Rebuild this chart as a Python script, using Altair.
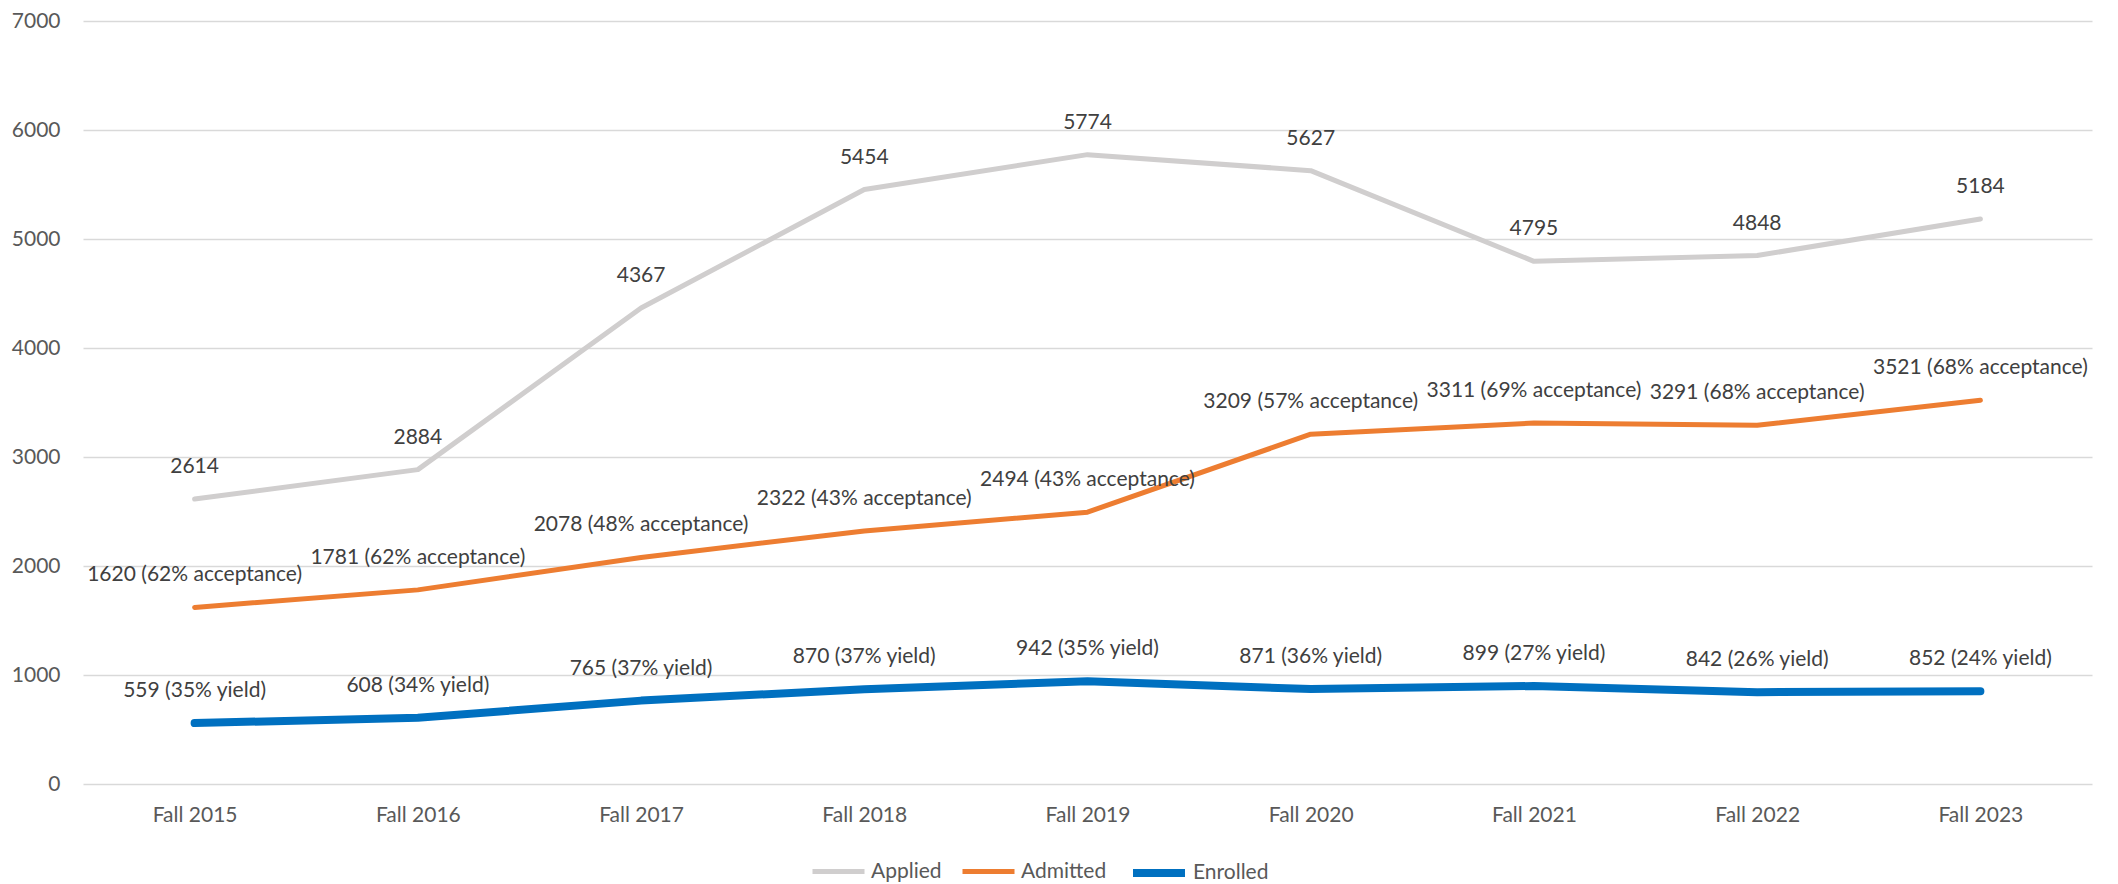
import altair as alt
import pandas as pd

years = ["Fall 2015", "Fall 2016", "Fall 2017", "Fall 2018", "Fall 2019",
         "Fall 2020", "Fall 2021", "Fall 2022", "Fall 2023"]
applied = [2614, 2884, 4367, 5454, 5774, 5627, 4795, 4848, 5184]
admitted = [1620, 1781, 2078, 2322, 2494, 3209, 3311, 3291, 3521]
acceptance_pct = [62, 62, 48, 43, 43, 57, 69, 68, 68]
enrolled = [559, 608, 765, 870, 942, 871, 899, 842, 852]
yield_pct = [35, 34, 37, 37, 35, 36, 27, 26, 24]

series_names = ["Applied", "Admitted", "Enrolled"]
series_colors = ["#D0CECE", "#ED7D31", "#0070C0"]
series_widths = [5, 5, 8]
y_ticks = [0, 1000, 2000, 3000, 4000, 5000, 6000, 7000]

rows = []
for i, yr in enumerate(years):
    rows.append(dict(year=yr, series="Applied", value=applied[i],
                     label=f"{applied[i]}"))
    rows.append(dict(year=yr, series="Admitted", value=admitted[i],
                     label=f"{admitted[i]} ({acceptance_pct[i]}% acceptance)"))
    rows.append(dict(year=yr, series="Enrolled", value=enrolled[i],
                     label=f"{enrolled[i]} ({yield_pct[i]}% yield)"))
df = pd.DataFrame(rows)

FONT = "Lato"

x_enc = alt.X("year:N", sort=years, title=None,
              scale=alt.Scale(type="point", padding=0.5),
              axis=alt.Axis(labelAngle=0, ticks=False, domain=False, grid=False,
                            labelPadding=20, labelFontSize=21, labelFont=FONT,
                            labelColor="#595959"))
y_enc = alt.Y("value:Q", title=None,
              scale=alt.Scale(domain=[0, 7000], nice=False, zero=True),
              axis=alt.Axis(values=y_ticks, format="d", ticks=False, domain=False,
                            grid=True, gridColor="#D9D9D9", gridWidth=1.5,
                            labelPadding=23, labelFontSize=21, labelFont=FONT,
                            labelColor="#595959"))

lines = alt.Chart(df).mark_line(strokeCap="round", strokeJoin="round").encode(
    x=x_enc,
    y=y_enc,
    color=alt.Color("series:N", title=None,
                    scale=alt.Scale(domain=series_names, range=series_colors),
                    sort=series_names),
    strokeWidth=alt.StrokeWidth("series:N", title=None,
                                scale=alt.Scale(type="ordinal", domain=series_names,
                                                range=series_widths),
                                sort=series_names),
)

labels = alt.Chart(df).mark_text(dy=-32, fontSize=21, font=FONT, color="#404040",
                                 baseline="middle", align="center").encode(
    x=alt.X("year:N", sort=years, scale=alt.Scale(type="point", padding=0.5)),
    y=alt.Y("value:Q", scale=alt.Scale(domain=[0, 7000], nice=False)),
    text="label:N",
)

chart = alt.layer(lines, labels).properties(
    width=2009, height=763,
    padding={"left": 3, "top": 2, "right": 5, "bottom": 0},
).configure_view(stroke=None).configure_legend(
    orient="none", legendX=727, legendY=822, direction="horizontal",
    gridAlign="none",
    symbolType="stroke", symbolSize=2704, labelFontSize=21, labelFont=FONT,
    labelColor="#595959", columnPadding=10, labelOffset=4, padding=0,
)

chart.save("out.html", embed_options={"renderer": "svg", "actions": False})
